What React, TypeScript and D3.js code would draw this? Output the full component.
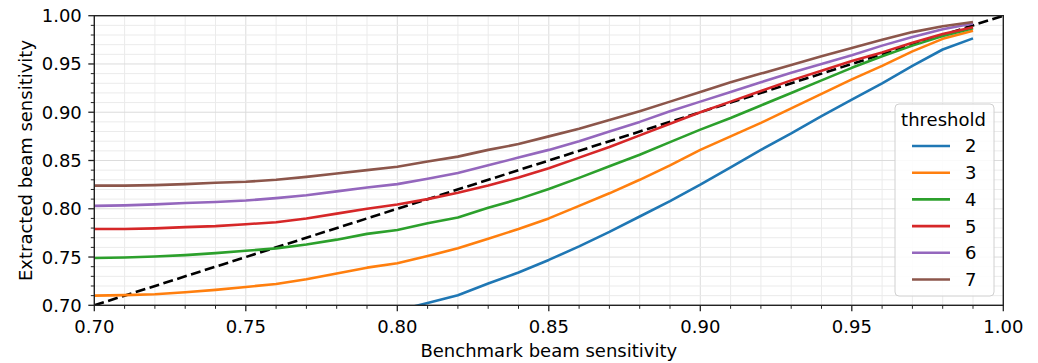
import * as d3 from "d3";

// benchmark beam sensitivity (x)
const xs = [
  0.7, 0.71, 0.72, 0.73, 0.74, 0.75, 0.76, 0.77, 0.78, 0.79, 0.8, 0.81, 0.82, 0.83, 0.84,
  0.85, 0.86, 0.87, 0.88, 0.89, 0.9, 0.91, 0.92, 0.93, 0.94, 0.95, 0.96, 0.97, 0.98, 0.99,
];

// extracted beam sensitivity per threshold
const t2 = [
  0.655, 0.6555, 0.657, 0.659, 0.662, 0.666, 0.67, 0.676, 0.682, 0.688, 0.6945, 0.7025, 0.7105,
  0.7225, 0.734, 0.747, 0.761, 0.776, 0.792, 0.808, 0.825, 0.843, 0.861, 0.878, 0.896, 0.913,
  0.93, 0.948, 0.965, 0.9765,
];
const t3 = [
  0.71, 0.7105, 0.7115, 0.7135, 0.716, 0.719, 0.722, 0.727, 0.733, 0.739, 0.7435, 0.751, 0.759,
  0.769, 0.779, 0.79, 0.803, 0.816, 0.83, 0.845, 0.861, 0.875, 0.889, 0.904, 0.919, 0.934, 0.948,
  0.963, 0.976, 0.9845,
];
const t4 = [
  0.749, 0.7495, 0.7505, 0.752, 0.754, 0.7565, 0.759, 0.763, 0.768, 0.774, 0.778, 0.785, 0.791,
  0.801, 0.81, 0.8205, 0.832, 0.844, 0.856, 0.869, 0.882, 0.894, 0.907, 0.92, 0.933, 0.946,
  0.958, 0.969, 0.979, 0.987,
];
const t5 = [
  0.779, 0.779, 0.7797, 0.781, 0.782, 0.784, 0.786, 0.79, 0.795, 0.8, 0.8045, 0.81, 0.8165, 0.824,
  0.8325, 0.842, 0.853, 0.864, 0.876, 0.888, 0.9, 0.911, 0.922, 0.933, 0.943, 0.953, 0.962, 0.972,
  0.981, 0.988,
];
const t6 = [
  0.803, 0.8035, 0.8045, 0.806, 0.807, 0.8085, 0.811, 0.814, 0.818, 0.822, 0.8255, 0.831, 0.837,
  0.845, 0.853, 0.861, 0.87, 0.88, 0.89, 0.901, 0.911, 0.921, 0.931, 0.941, 0.95, 0.959, 0.969,
  0.978, 0.986, 0.992,
];
const t7 = [
  0.824, 0.824, 0.8245, 0.8255, 0.827, 0.828, 0.83, 0.833, 0.8365, 0.84, 0.8435, 0.849, 0.854,
  0.861, 0.867, 0.875, 0.883, 0.892, 0.901, 0.911, 0.921, 0.931, 0.94, 0.949, 0.958, 0.9665,
  0.975, 0.983, 0.989, 0.9935,
];

const thresholds = ["2", "3", "4", "5", "6", "7"];
const seriesValues = [t2, t3, t4, t5, t6, t7];
const colors = ["#1f77b4", "#ff7f0e", "#2ca02c", "#d62728", "#9467bd", "#8c564b"];

const xTickLabels = ["0.70", "0.75", "0.80", "0.85", "0.90", "0.95", "1.00"];
const yTickLabels = ["0.70", "0.75", "0.80", "0.85", "0.90", "0.95", "1.00"];

const W = 1038;
const H = 363;
const M = { left: 94.3, right: 1003.3, top: 15.7, bottom: 305.3 };
const FONT = "DejaVu Sans, sans-serif";
const FS = 18;

export default function App() {
  const x = d3.scaleLinear().domain([0.7, 1.0]).range([M.left, M.right]);
  const y = d3.scaleLinear().domain([0.7, 1.0]).range([M.bottom, M.top]);

  const minor = d3.range(0, 31).map((i) => 0.7 + i * 0.01);
  const line = d3
    .line<number>()
    .x((_, i) => x(xs[i]))
    .y((d) => y(d));

  const legX = 895;
  const legY = 104;

  return (
    <svg
      width={W}
      height={H}
      style={{ position: "absolute", left: 0, top: 0, fontFamily: FONT }}
    >
      <rect width={W} height={H} fill="#fff" />
      <defs>
        <clipPath id="plot">
          <rect x={M.left} y={M.top} width={M.right - M.left} height={M.bottom - M.top} />
        </clipPath>
      </defs>

      {/* grid */}
      {minor.map((v, i) => (
        <line
          key={"gx" + i}
          x1={x(v)}
          x2={x(v)}
          y1={M.top}
          y2={M.bottom}
          stroke={i % 5 === 0 ? "#dcdcdc" : "#ebebeb"}
          strokeWidth={1}
        />
      ))}
      {minor.map((v, i) => (
        <line
          key={"gy" + i}
          x1={M.left}
          x2={M.right}
          y1={y(v)}
          y2={y(v)}
          stroke={i % 5 === 0 ? "#dcdcdc" : "#ebebeb"}
          strokeWidth={1}
        />
      ))}

      <g clipPath="url(#plot)">
        <line
          x1={x(0.7)}
          y1={y(0.7)}
          x2={x(1.0)}
          y2={y(1.0)}
          stroke="#000"
          strokeWidth={2.6}
          strokeDasharray="10,4.5"
        />
        {seriesValues.map((vals, k) => (
          <path
            key={k}
            d={line(vals) ?? ""}
            fill="none"
            stroke={colors[k]}
            strokeWidth={2.6}
            strokeLinejoin="round"
          />
        ))}
      </g>

      {/* spines */}
      <rect
        x={M.left}
        y={M.top}
        width={M.right - M.left}
        height={M.bottom - M.top}
        fill="none"
        stroke="#222"
        strokeWidth={1.4}
      />

      {/* ticks */}
      {minor.map((v, i) => {
        const len = i % 5 === 0 ? 6 : 3.5;
        return (
          <g key={"t" + i} stroke="#222" strokeWidth={i % 5 === 0 ? 1.3 : 1}>
            <line x1={x(v)} x2={x(v)} y1={M.bottom} y2={M.bottom + len} />
            <line x1={M.left - len} x2={M.left} y1={y(v)} y2={y(v)} />
          </g>
        );
      })}
      {xTickLabels.map((t) => (
        <text key={"xl" + t} x={x(+t)} y={332.5} textAnchor="middle" fontSize={FS} fill="#000">
          {t}
        </text>
      ))}
      {yTickLabels.map((t) => (
        <text
          key={"yl" + t}
          x={M.left - 12.5}
          y={y(+t)}
          dy="0.36em"
          textAnchor="end"
          fontSize={FS}
          fill="#000"
        >
          {t}
        </text>
      ))}

      <text x={(M.left + M.right) / 2} y={357} textAnchor="middle" fontSize={FS} fill="#000">
        Benchmark beam sensitivity
      </text>
      <text
        transform={`translate(32,${(M.top + M.bottom) / 2}) rotate(-90)`}
        textAnchor="middle"
        fontSize={FS}
        fill="#000"
      >
        Extracted beam sensitivity
      </text>

      {/* legend */}
      <rect
        x={legX}
        y={legY}
        width={99}
        height={192}
        rx={4}
        fill="#fff"
        fillOpacity={0.85}
        stroke="#d0d0d0"
        strokeWidth={1}
      />
      <text x={legX + 48.5} y={legY + 22} textAnchor="middle" fontSize={FS} fill="#000">
        threshold
      </text>
      {thresholds.map((t, k) => {
        const cy = legY + 42 + k * 26.7;
        return (
          <g key={"lg" + t}>
            <line x1={912} x2={950} y1={cy} y2={cy} stroke={colors[k]} strokeWidth={2.6} />
            <text x={965} y={cy} dy="0.36em" fontSize={FS} fill="#000">
              {t}
            </text>
          </g>
        );
      })}
    </svg>
  );
}
